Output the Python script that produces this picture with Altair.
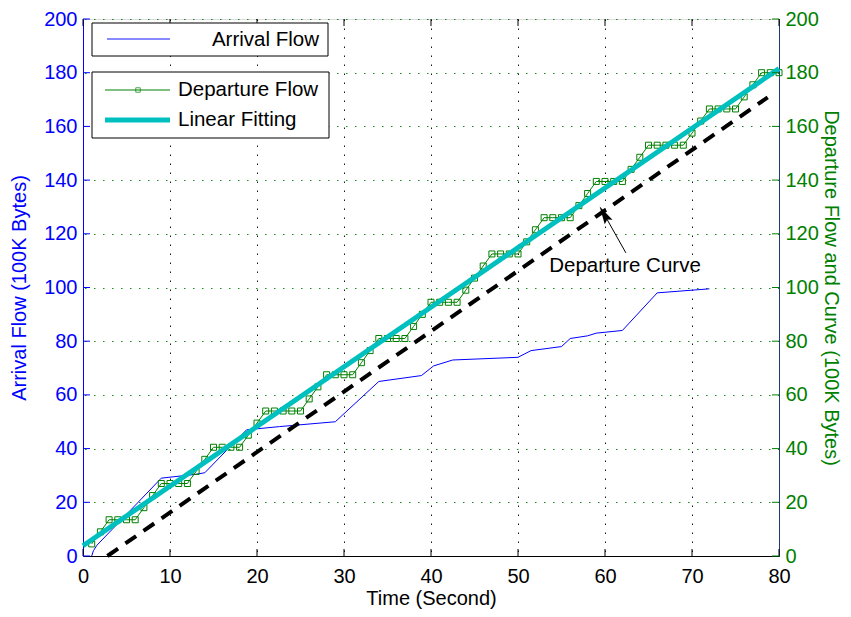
import altair as alt
import pandas as pd

FONT = "Liberation Sans"

# ---------------- data ----------------
arrival_t = [1.0, 1.2, 1.6, 9.0, 12.9, 14.0, 18.8, 22.6, 29.0, 34.0, 38.9, 40.3, 42.5, 50.0, 51.5, 55.0, 56.0, 58.0, 59.0, 62.0, 66.0, 72.0]
arrival_v = [0, 2, 4, 29, 30.4, 31, 47, 48.2, 50, 65, 67.2, 70.8, 73, 74, 76.5, 78, 81, 82, 83, 84, 98, 99.5]

departure_t = list(range(1, 81))
departure_v = [4.5, 9, 13.5, 13.5, 13.5, 13.5, 18, 22.5, 27, 27,
               27, 27, 31.5, 36, 40.5, 40.5, 40.5, 40.5, 45, 49.5,
               54, 54, 54, 54, 54, 58.5, 63, 67.5, 67.5, 67.5,
               67.5, 72, 76.5, 81, 81, 81, 81, 85.5, 90, 94.5,
               94.5, 94.5, 94.5, 99, 103.5, 108, 112.5, 112.5, 112.5, 112.5,
               117, 121.5, 126, 126, 126, 126, 130.5, 135, 139.5, 139.5,
               139.5, 139.5, 144, 148.5, 153, 153, 153, 153, 153, 157.5,
               162, 166.5, 166.5, 166.5, 166.5, 171, 175.5, 180, 180, 180]

fit_t = [0, 80]
fit_v = [3.8, 181.5]

curve_t = [2.8, 78.7]
curve_v = [0, 170.8]

x_ticks = [0, 10, 20, 30, 40, 50, 60, 70, 80]
y_ticks = [0, 20, 40, 60, 80, 100, 120, 140, 160, 180, 200]

annot_text = "Departure Curve"
annot_pos = [62.3, 108]
arrow_t = [62.4, 59.9]
arrow_v = [112.9, 127.3]

BLUE = "#0000ff"
GREEN = "#008000"
CYAN = "#00bfbf"
W, H = 696, 537
TICK_FS = 20
TITLE_FS = 20
TEXT_FS = 20.5

xscale = alt.Scale(domain=[0, 80], nice=False, zero=False)
yscale = alt.Scale(domain=[0, 200], nice=False, zero=False)

xaxis = alt.Axis(values=x_ticks, title="Time (Second)", grid=True, gridColor="black",
                 gridDash=[1.5, 7.5], gridOpacity=0.9, ticks=False, domainColor="black",
                 labelColor="black", titleColor="black", labelFontSize=TICK_FS, titleFontSize=TITLE_FS,
                 labelFont=FONT, titleFont=FONT, labelPadding=10, titlePadding=2,
                 titleFontWeight="normal", labelFlush=False)

arr_df = pd.DataFrame({"t": arrival_t, "v": arrival_v})
dep_df = pd.DataFrame({"t": departure_t, "v": departure_v})
fit_df = pd.DataFrame({"t": fit_t, "v": fit_v})
cur_df = pd.DataFrame({"t": curve_t, "v": curve_v})
xt_df = pd.DataFrame({"t": x_ticks})
yt_df = pd.DataFrame({"v": y_ticks})
one = pd.DataFrame({"a": [0]})

X = alt.X("t:Q", scale=xscale, axis=xaxis)

arrival = alt.Chart(arr_df).mark_line(color=BLUE, strokeWidth=1).encode(
    x=X,
    y=alt.Y("v:Q", scale=yscale, axis=alt.Axis(
        orient="left", values=y_ticks, title="Arrival Flow (100K Bytes)", grid=False,
        ticks=False, domainColor=BLUE, labelColor=BLUE, titleColor=BLUE,
        labelFontSize=TICK_FS, titleFontSize=TITLE_FS, labelFont=FONT, titleFont=FONT,
        labelPadding=6, titlePadding=14, titleFontWeight="normal", labelFlush=False)),
)

departure = alt.Chart(dep_df).mark_line(
    color=GREEN, strokeWidth=1,
    point=alt.OverlayMarkDef(shape="square", filled=False, size=36, color=GREEN, strokeWidth=1)
).encode(
    x=X,
    y=alt.Y("v:Q", scale=yscale, axis=alt.Axis(
        orient="right", values=y_ticks, title="Departure Flow and Curve (100K Bytes)",
        grid=True, gridColor=GREEN, gridDash=[1.5, 7.5], gridOpacity=0.9,
        ticks=False, domainColor="#1f3a6e", labelColor=GREEN, titleColor=GREEN,
        labelFontSize=TICK_FS, titleFontSize=TITLE_FS, labelFont=FONT, titleFont=FONT,
        labelPadding=6, titlePadding=2, titleFontWeight="normal", labelFlush=False)),
)

fit = alt.Chart(fit_df).mark_line(color=CYAN, strokeWidth=5).encode(
    x=X, y=alt.Y("v:Q", scale=yscale, axis=None))

curve = alt.Chart(cur_df).mark_line(color="black", strokeWidth=4, strokeDash=[13, 9]).encode(
    x=X, y=alt.Y("v:Q", scale=yscale, axis=None))

# inner tick marks
xt_bottom = alt.Chart(xt_df).mark_rule(color="black", strokeWidth=1).encode(
    x=X, y=alt.value(H), y2=alt.value(H - 7))
xt_top = alt.Chart(xt_df).mark_rule(color="black", strokeWidth=1).encode(
    x=X, y=alt.value(0), y2=alt.value(7))
yt_left = alt.Chart(yt_df).mark_rule(color=BLUE, strokeWidth=1).encode(
    y=alt.Y("v:Q", scale=yscale, axis=None), x=alt.value(0), x2=alt.value(7))
yt_right = alt.Chart(yt_df).mark_rule(color=GREEN, strokeWidth=1).encode(
    y=alt.Y("v:Q", scale=yscale, axis=None), x=alt.value(W), x2=alt.value(W - 7))

# annotation
annot = alt.Chart(pd.DataFrame({"t": [annot_pos[0]], "v": [annot_pos[1]], "s": [annot_text]})).mark_text(
    font=FONT, fontSize=TEXT_FS, color="black", align="center", baseline="middle").encode(
    x=X, y=alt.Y("v:Q", scale=yscale, axis=None), text="s:N")
arrow_line = alt.Chart(pd.DataFrame({"t": arrow_t, "v": arrow_v})).mark_line(
    color="black", strokeWidth=1).encode(x=X, y=alt.Y("v:Q", scale=yscale, axis=None))
arrow_head = alt.Chart(pd.DataFrame({"t": [arrow_t[1]], "v": [arrow_v[1]]})).mark_point(
    shape="M0,-1 L-0.5,1 L0,0.7 L0.5,1 Z", filled=True, color="black", size=320,
    angle=330, opacity=1).encode(x=X, y=alt.Y("v:Q", scale=yscale, axis=None))

# legends (pixel positions inside the plot area)
def box(x1, x2, y1, y2):
    return alt.Chart(one).mark_rect(fill="white", stroke="black", strokeWidth=1).encode(
        x=alt.value(x1), x2=alt.value(x2), y=alt.value(y1), y2=alt.value(y2))

def sample(x1, x2, yy, color, sw):
    return alt.Chart(one).mark_rule(color=color, strokeWidth=sw).encode(
        x=alt.value(x1), x2=alt.value(x2), y=alt.value(yy))

def label(xx, yy, txt, align):
    return alt.Chart(pd.DataFrame({"s": [txt]})).mark_text(
        font=FONT, fontSize=TEXT_FS, color="black", align=align, baseline="middle").encode(
        x=alt.value(xx), y=alt.value(yy), text="s:N")

leg1 = [box(9, 245, 4, 37), sample(24, 87, 20, "#6060ff", 1.5), label(236, 21, "Arrival Flow", "right")]
leg2 = [box(9, 246, 53, 119), sample(22, 87, 71, GREEN, 1),
        alt.Chart(one).mark_point(shape="square", filled=False, size=20, color=GREEN, strokeWidth=1).encode(
            x=alt.value(55), y=alt.value(71)),
        label(95, 71, "Departure Flow", "left"),
        sample(22, 87, 101, CYAN, 5), label(95, 101, "Linear Fitting", "left")]

chart = alt.layer(
    arrival, departure, curve, fit, xt_bottom, xt_top, yt_left, yt_right,
    annot, arrow_line, arrow_head, *leg1, *leg2
).resolve_axis(y="independent").properties(
    width=W, height=H,
    autosize=alt.AutoSizeParams(type="none"),
    padding={"left": 75, "top": 11, "right": 64, "bottom": 53},
).configure_view(stroke="black", strokeWidth=1).configure(background="white")

chart.save("out.html", embed_options={"renderer": "svg", "actions": False})
